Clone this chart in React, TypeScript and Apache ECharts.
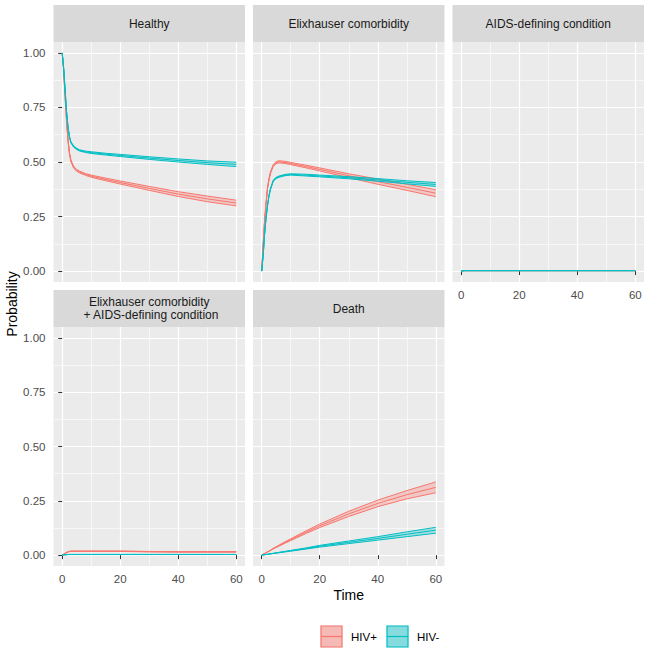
import React, { useEffect, useRef } from "react";
import * as echarts from "echarts";

// ---------- data ----------
const timePoints = [0, 0.5, 1, 1.5, 2, 2.5, 3, 4, 5, 6, 8, 10, 15, 20, 30, 40, 50, 60];

const panelTitles = [
  "Healthy",
  "Elixhauser comorbidity",
  "AIDS-defining condition",
  "Elixhauser comorbidity\n + AIDS-defining condition",
  "Death",
];
const groupNames = ["HIV+", "HIV-"];
const groupColors = ["#F8766D", "#00BFC4"];

const xTickValues = [0, 20, 40, 60];
const xMinorValues = [10, 30, 50];
const yTickValues = [0, 0.25, 0.5, 0.75, 1];
const yMinorValues = [0.125, 0.375, 0.625, 0.875];

// Healthy
const healthyPlusMid = [1.0, 0.92, 0.8, 0.69, 0.6, 0.54, 0.505, 0.475, 0.462, 0.454, 0.443, 0.435, 0.42, 0.406, 0.379, 0.353, 0.331, 0.312];
const healthyPlusLo = [1.0, 0.917, 0.796, 0.686, 0.596, 0.536, 0.501, 0.471, 0.458, 0.45, 0.439, 0.43, 0.414, 0.399, 0.37, 0.342, 0.318, 0.299];
const healthyPlusHi = [1.0, 0.923, 0.804, 0.694, 0.604, 0.544, 0.509, 0.479, 0.466, 0.458, 0.447, 0.44, 0.426, 0.413, 0.388, 0.364, 0.344, 0.325];
const healthyMinusMid = [1.0, 0.93, 0.83, 0.73, 0.66, 0.615, 0.59, 0.57, 0.56, 0.553, 0.547, 0.543, 0.536, 0.53, 0.518, 0.507, 0.497, 0.489];
const healthyMinusLo = [1.0, 0.928, 0.827, 0.727, 0.657, 0.612, 0.587, 0.567, 0.557, 0.55, 0.544, 0.539, 0.532, 0.525, 0.512, 0.5, 0.489, 0.479];
const healthyMinusHi = [1.0, 0.932, 0.833, 0.733, 0.663, 0.618, 0.593, 0.573, 0.563, 0.556, 0.55, 0.547, 0.54, 0.535, 0.524, 0.514, 0.505, 0.499];

// Elixhauser comorbidity
const elixPlusMid = [0, 0.12, 0.23, 0.31, 0.38, 0.42, 0.45, 0.485, 0.497, 0.501, 0.498, 0.493, 0.48, 0.466, 0.437, 0.41, 0.384, 0.357];
const elixPlusLo = [0, 0.117, 0.226, 0.306, 0.376, 0.416, 0.446, 0.481, 0.492, 0.496, 0.493, 0.488, 0.474, 0.459, 0.428, 0.398, 0.37, 0.341];
const elixPlusHi = [0, 0.123, 0.234, 0.314, 0.384, 0.424, 0.454, 0.489, 0.502, 0.506, 0.503, 0.498, 0.486, 0.473, 0.446, 0.422, 0.398, 0.373];
const elixMinusMid = [0, 0.07, 0.17, 0.245, 0.3, 0.345, 0.375, 0.415, 0.427, 0.433, 0.44, 0.443, 0.44, 0.436, 0.428, 0.418, 0.407, 0.397];
const elixMinusLo = [0, 0.068, 0.167, 0.242, 0.297, 0.342, 0.372, 0.412, 0.424, 0.43, 0.437, 0.44, 0.436, 0.432, 0.423, 0.412, 0.4, 0.388];
const elixMinusHi = [0, 0.072, 0.173, 0.248, 0.303, 0.348, 0.378, 0.418, 0.43, 0.436, 0.443, 0.446, 0.444, 0.44, 0.433, 0.424, 0.414, 0.406];

// AIDS-defining condition
const aidsPlusMid = [0, 0.001, 0.002, 0.002, 0.002, 0.002, 0.002, 0.002, 0.002, 0.002, 0.002, 0.002, 0.002, 0.002, 0.002, 0.002, 0.002, 0.002];
const aidsPlusLo = [0, 0.001, 0.0015, 0.0015, 0.0015, 0.0015, 0.0015, 0.0015, 0.0015, 0.0015, 0.0015, 0.0015, 0.0015, 0.0015, 0.0015, 0.0015, 0.0015, 0.0015];
const aidsPlusHi = [0, 0.001, 0.0025, 0.0025, 0.0025, 0.0025, 0.0025, 0.0025, 0.0025, 0.0025, 0.0025, 0.0025, 0.0025, 0.0025, 0.0025, 0.0025, 0.0025, 0.0025];
const aidsMinusMid = [0, 0.001, 0.002, 0.002, 0.002, 0.002, 0.002, 0.002, 0.002, 0.002, 0.002, 0.002, 0.002, 0.002, 0.002, 0.002, 0.002, 0.002];
const aidsMinusLo = [0, 0.001, 0.0018, 0.0018, 0.0018, 0.0018, 0.0018, 0.0018, 0.0018, 0.0018, 0.0018, 0.0018, 0.0018, 0.0018, 0.0018, 0.0018, 0.0018, 0.0018];
const aidsMinusHi = [0, 0.001, 0.0022, 0.0022, 0.0022, 0.0022, 0.0022, 0.0022, 0.0022, 0.0022, 0.0022, 0.0022, 0.0022, 0.0022, 0.0022, 0.0022, 0.0022, 0.0022];

// Elixhauser comorbidity + AIDS-defining condition
const bothPlusMid = [0, 0.004, 0.008, 0.012, 0.015, 0.017, 0.018, 0.018, 0.018, 0.018, 0.018, 0.018, 0.018, 0.018, 0.016, 0.015, 0.015, 0.015];
const bothPlusLo = [0, 0.0035, 0.0072, 0.011, 0.014, 0.016, 0.017, 0.017, 0.017, 0.017, 0.017, 0.017, 0.017, 0.017, 0.015, 0.014, 0.014, 0.014];
const bothPlusHi = [0, 0.0045, 0.0088, 0.013, 0.016, 0.018, 0.019, 0.019, 0.019, 0.019, 0.019, 0.019, 0.019, 0.019, 0.017, 0.016, 0.016, 0.016];
const bothMinusMid = [0, 0.001, 0.002, 0.002, 0.003, 0.003, 0.003, 0.003, 0.003, 0.003, 0.003, 0.003, 0.003, 0.003, 0.003, 0.003, 0.003, 0.003];
const bothMinusLo = [0, 0.001, 0.0018, 0.0018, 0.0027, 0.0027, 0.0027, 0.0027, 0.0027, 0.0027, 0.0027, 0.0027, 0.0027, 0.0027, 0.0027, 0.0027, 0.0027, 0.0027];
const bothMinusHi = [0, 0.001, 0.0022, 0.0022, 0.0033, 0.0033, 0.0033, 0.0033, 0.0033, 0.0033, 0.0033, 0.0033, 0.0033, 0.0033, 0.0033, 0.0033, 0.0033, 0.0033];

// Death
const deathPlusMid = [0, 0.004, 0.0075, 0.011, 0.015, 0.018, 0.022, 0.03, 0.037, 0.044, 0.058, 0.071, 0.104, 0.135, 0.19, 0.238, 0.278, 0.312];
const deathPlusLo = [0, 0.004, 0.0072, 0.0105, 0.0143, 0.017, 0.0208, 0.0285, 0.035, 0.0415, 0.0547, 0.067, 0.098, 0.127, 0.178, 0.223, 0.259, 0.287];
const deathPlusHi = [0, 0.004, 0.0078, 0.0115, 0.0157, 0.019, 0.0232, 0.0315, 0.039, 0.0465, 0.0613, 0.075, 0.11, 0.143, 0.202, 0.253, 0.297, 0.337];
const deathMinusMid = [0, 0.001, 0.002, 0.003, 0.004, 0.005, 0.006, 0.008, 0.01, 0.012, 0.016, 0.02, 0.03, 0.041, 0.059, 0.077, 0.096, 0.115];
const deathMinusLo = [0, 0.001, 0.002, 0.003, 0.0038, 0.0047, 0.0056, 0.0075, 0.0093, 0.011, 0.0147, 0.0183, 0.0275, 0.037, 0.053, 0.069, 0.085, 0.101];
const deathMinusHi = [0, 0.001, 0.002, 0.003, 0.0042, 0.0053, 0.0064, 0.0085, 0.0107, 0.013, 0.0173, 0.0217, 0.0325, 0.045, 0.065, 0.085, 0.107, 0.128];

const panelData = [
  [[healthyPlusMid, healthyPlusLo, healthyPlusHi], [healthyMinusMid, healthyMinusLo, healthyMinusHi]],
  [[elixPlusMid, elixPlusLo, elixPlusHi], [elixMinusMid, elixMinusLo, elixMinusHi]],
  [[aidsPlusMid, aidsPlusLo, aidsPlusHi], [aidsMinusMid, aidsMinusLo, aidsMinusHi]],
  [[bothPlusMid, bothPlusLo, bothPlusHi], [bothMinusMid, bothMinusLo, bothMinusHi]],
  [[deathPlusMid, deathPlusLo, deathPlusHi], [deathMinusMid, deathMinusLo, deathMinusHi]],
];

// ---------- layout ----------
const FONT = "'Liberation Sans', Arial, sans-serif";
const PANEL_W = 191.5;
const COL_X = [53.5, 253, 452.5];
const ROW_Y = [42, 327];
const PANEL_H = [240, 239];
const STRIP_H = 37;

function buildOption() {
  const grids: any[] = [];
  const xAxes: any[] = [];
  const yAxes: any[] = [];
  const series: any[] = [];
  const graphics: any[] = [];

  panelTitles.forEach((title, i) => {
    const col = i % 3;
    const row = Math.floor(i / 3);
    const left = COL_X[col];
    const top = ROW_Y[row];
    const h = PANEL_H[row];
    const showX = row === 1 || i === 2;
    const showY = col === 0;

    grids.push({
      left,
      top,
      width: PANEL_W,
      height: h,
      show: true,
      backgroundColor: "#EBEBEB",
      borderWidth: 0,
      outerBoundsMode: "none",
    });

    xAxes.push({
      type: "value",
      gridIndex: i,
      min: -3,
      max: 63,
      axisLine: { show: false },
      axisTick: { show: showX, customValues: xTickValues, length: 4, lineStyle: { color: "#333333", width: 1 } },
      axisLabel: { show: showX, customValues: xTickValues, color: "#4D4D4D", fontSize: 11.5, margin: 7, fontFamily: FONT },
      splitLine: { show: true, lineStyle: { color: "#FFFFFF", width: 1.2 } },
    });
    xAxes.push({
      type: "value",
      gridIndex: i,
      min: -3,
      max: 63,
      position: "bottom",
      axisLine: { show: false },
      axisTick: { show: false, customValues: xMinorValues },
      axisLabel: { show: false, customValues: xMinorValues },
      splitLine: { show: true, lineStyle: { color: "#FFFFFF", width: 0.6 } },
    });
    yAxes.push({
      type: "value",
      gridIndex: i,
      min: -0.05,
      max: 1.05,
      axisLine: { show: false },
      axisTick: { show: showY, customValues: yTickValues, length: 4, lineStyle: { color: "#333333", width: 1 } },
      axisLabel: {
        show: showY,
        customValues: yTickValues,
        color: "#4D4D4D",
        fontSize: 11.5,
        margin: 8,
        fontFamily: FONT,
        formatter: (v: number) => v.toFixed(2),
      },
      splitLine: { show: true, lineStyle: { color: "#FFFFFF", width: 1.2 } },
    });
    yAxes.push({
      type: "value",
      gridIndex: i,
      min: -0.05,
      max: 1.05,
      position: "left",
      axisLine: { show: false },
      axisTick: { show: false, customValues: yMinorValues },
      axisLabel: { show: false, customValues: yMinorValues },
      splitLine: { show: true, lineStyle: { color: "#FFFFFF", width: 0.6 } },
    });

    graphics.push({
      type: "rect",
      shape: { x: left, y: top - STRIP_H, width: PANEL_W, height: STRIP_H },
      style: { fill: "#D9D9D9" },
      silent: true,
    });
    graphics.push({
      type: "text",
      x: left + PANEL_W / 2,
      y: top - STRIP_H / 2,
      style: {
        text: title,
        align: "center",
        verticalAlign: "middle",
        fill: "#1A1A1A",
        fontSize: 12,
        fontFamily: FONT,
        lineHeight: 13,
      },
      silent: true,
    });

    panelData[i].forEach((grp, g) => {
      const [mid, lo, hi] = grp;
      const color = groupColors[g];
      const common = {
        xAxisIndex: 2 * i,
        yAxisIndex: 2 * i,
        silent: true,
      };
      series.push({
        ...common,
        type: "custom",
        name: groupNames[g] + " band",
        z: 2 + g * 2,
        data: timePoints.map((t, k) => [t, hi[k]]),
        renderItem: (params: any, api: any) => {
          if (params.dataIndex !== 0) return null;
          const upper = timePoints.map((t, k) => api.coord([t, hi[k]]));
          const lower = timePoints.map((t, k) => api.coord([t, lo[k]])).reverse();
          return {
            type: "polygon",
            shape: { points: upper.concat(lower) },
            style: { fill: color, opacity: 0.3 },
          };
        },
      });
      [lo, hi, mid].forEach((arr) => {
        series.push({
          ...common,
          type: "line",
          name: groupNames[g],
          z: 3 + g * 2,
          symbol: "none",
          showSymbol: false,
          smooth: false,
          data: timePoints.map((t, k) => [t, arr[k]]),
          lineStyle: { color, width: 1 },
        });
      });
    });
  });

  graphics.push({
    type: "text",
    x: 12,
    y: 304,
    rotation: Math.PI / 2,
    style: {
      text: "Probability",
      align: "center",
      verticalAlign: "middle",
      fill: "#000000",
      fontSize: 14,
      fontFamily: FONT,
    },
    silent: true,
  });
  graphics.push({
    type: "text",
    x: 348.75,
    y: 595,
    style: {
      text: "Time",
      align: "center",
      verticalAlign: "middle",
      fill: "#000000",
      fontSize: 14,
      fontFamily: FONT,
    },
    silent: true,
  });

  const legendKeyX = [320, 386];
  const legendY = 625;
  const KEY = 23;
  groupNames.forEach((name, g) => {
    const color = groupColors[g];
    const kx = legendKeyX[g];
    graphics.push({
      type: "rect",
      shape: { x: kx, y: legendY, width: KEY, height: KEY },
      style: { fill: "#F2F2F2" },
      silent: true,
    });
    graphics.push({
      type: "rect",
      shape: { x: kx + 1, y: legendY + 1, width: KEY - 2, height: KEY - 2 },
      style: { fill: color, opacity: 0.45 },
      silent: true,
    });
    graphics.push({
      type: "rect",
      shape: { x: kx + 1, y: legendY + 1, width: KEY - 2, height: KEY - 2 },
      style: { fill: "none", stroke: color, lineWidth: 1.2 },
      silent: true,
    });
    graphics.push({
      type: "line",
      shape: { x1: kx + 1, y1: legendY + KEY / 2, x2: kx + KEY - 1, y2: legendY + KEY / 2 },
      style: { stroke: color, lineWidth: 1.2 },
      silent: true,
    });
    graphics.push({
      type: "text",
      x: kx + KEY + 8,
      y: legendY + KEY / 2,
      style: {
        text: name,
        align: "left",
        verticalAlign: "middle",
        fill: "#000000",
        fontSize: 11.5,
        fontFamily: FONT,
      },
      silent: true,
    });
  });

  return {
    animation: false,
    backgroundColor: "#FFFFFF",
    textStyle: { fontFamily: FONT },
    grid: grids,
    xAxis: xAxes,
    yAxis: yAxes,
    series,
    graphic: graphics,
  };
}

export default function App() {
  const ref = useRef<HTMLDivElement>(null);
  useEffect(() => {
    if (!ref.current) return;
    const chart = echarts.init(ref.current, null, { renderer: "svg" });
    chart.setOption(buildOption() as any);
    return () => chart.dispose();
  }, []);
  return (
    <div
      ref={ref}
      style={{ position: "fixed", left: 0, top: 0, width: 650, height: 655 }}
    />
  );
}
